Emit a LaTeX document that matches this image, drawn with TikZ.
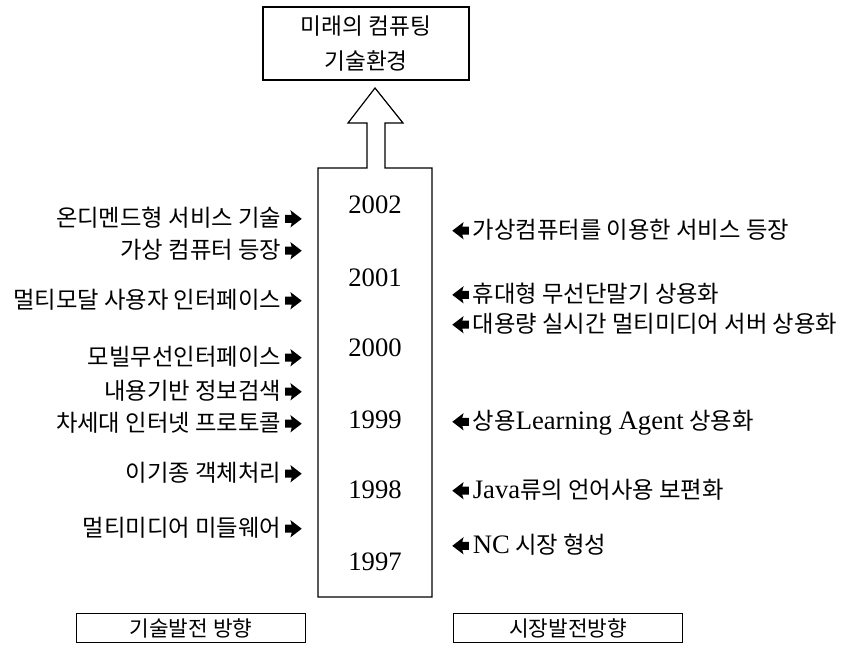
\documentclass[tikz,border=0pt]{standalone}
\usepackage{fontspec}
\setmainfont{Liberation Serif}
\newfontfamily\kr{Noto Sans CJK KR}
\usetikzlibrary{positioning}

% small solid arrows set in the text
\newcommand{\rarr}{\,\tikz[baseline=-6pt,x=1pt,y=1pt]\fill (0,-3)--(5,-3)--(4,-6.5)--(12.5,0)--(4,6.5)--(5,3)--(0,3)--cycle;}
\newcommand{\larr}{\tikz[baseline=-6pt,x=-1pt,y=1pt]\fill (0,-3)--(5,-3)--(4,-6.5)--(12.5,0)--(4,6.5)--(5,3)--(0,3)--cycle;\,}
\newcommand{\lat}[1]{{\rmfamily\fontsize{20}{22}\selectfont #1}}

\tikzset{
  tech/.style={anchor=east,inner sep=0pt,font=\kr\fontsize{17.5}{20}\selectfont},
  mkt/.style={anchor=west,inner sep=0pt,font=\kr\fontsize{17.5}{20}\selectfont},
  yr/.style={font=\fontsize{20}{22}\selectfont},
  tagbox/.style={draw,line width=0.9pt,minimum width=172pt,minimum height=21.5pt,inner sep=0pt,font=\kr\fontsize{16}{18}\selectfont}
}

\begin{document}
\begin{tikzpicture}[x=0.75pt,y=-0.75pt]
\useasboundingbox (0,0) rectangle (849,654);

% target box
\node[draw,line width=0.9pt,minimum width=154.5pt,minimum height=54.75pt,align=center,
      font=\kr\fontsize{17}{26}\selectfont] (goal) at (366,43.5) {미래의 컴퓨팅\\기술환경};

% column with arrow
\draw[line width=0.9pt] (318,597) -- (318,168) -- (367,168) -- (367,123) -- (348,123)
   -- (375,88) -- (403,123) -- (385,123) -- (385,168) -- (432,168) -- (432,597) -- cycle;

\foreach \yr/\y in {2002/205,2001/278,2000/348,1999/420,1998/490,1997/562}
  \node[yr] (y\yr) at (375,\y) {\yr};

% technology side
\node[tech] (t1) at (302,218) {온디멘드형 서비스 기술\rarr};
\node[tech] (t2) at (302,250) {가상 컴퓨터 등장\rarr};
\node[tech] (t3) at (302,300) {멀티모달 사용자 인터페이스\rarr};
\node[tech] (t4) at (302,357) {모빌무선인터페이스\rarr};
\node[tech] (t5) at (302,391) {내용기반 정보검색\rarr};
\node[tech] (t6) at (302,423) {차세대 인터넷 프로토콜\rarr};
\node[tech] (t7) at (302,473) {이기종 객체처리\rarr};
\node[tech] (t8) at (302,528) {멀티미디어 미들웨어\rarr};

% market side
\node[mkt] (m1) at (452,230) {\larr 가상컴퓨터를 이용한 서비스 등장};
\node[mkt] (m2) at (452,294) {\larr 휴대형 무선단말기 상용화};
\node[mkt] (m3) at (452,324) {\larr 대용량 실시간 멀티미디어 서버 상용화};
\node[mkt] (m4) at (452,423) {\larr 상용\lat{Learning Agent} 상용화};
\node[mkt] (m5) at (452,490) {\larr\lat{Java}류의 언어사용 보편화};
\node[mkt] (m6) at (452,545) {\larr\lat{NC} 시장 형성};

\node[tagbox] (tech) at (191,628) {기술발전 방향};
\node[tagbox] (market) at (568,628) {시장발전방향};
\end{tikzpicture}
\end{document}
